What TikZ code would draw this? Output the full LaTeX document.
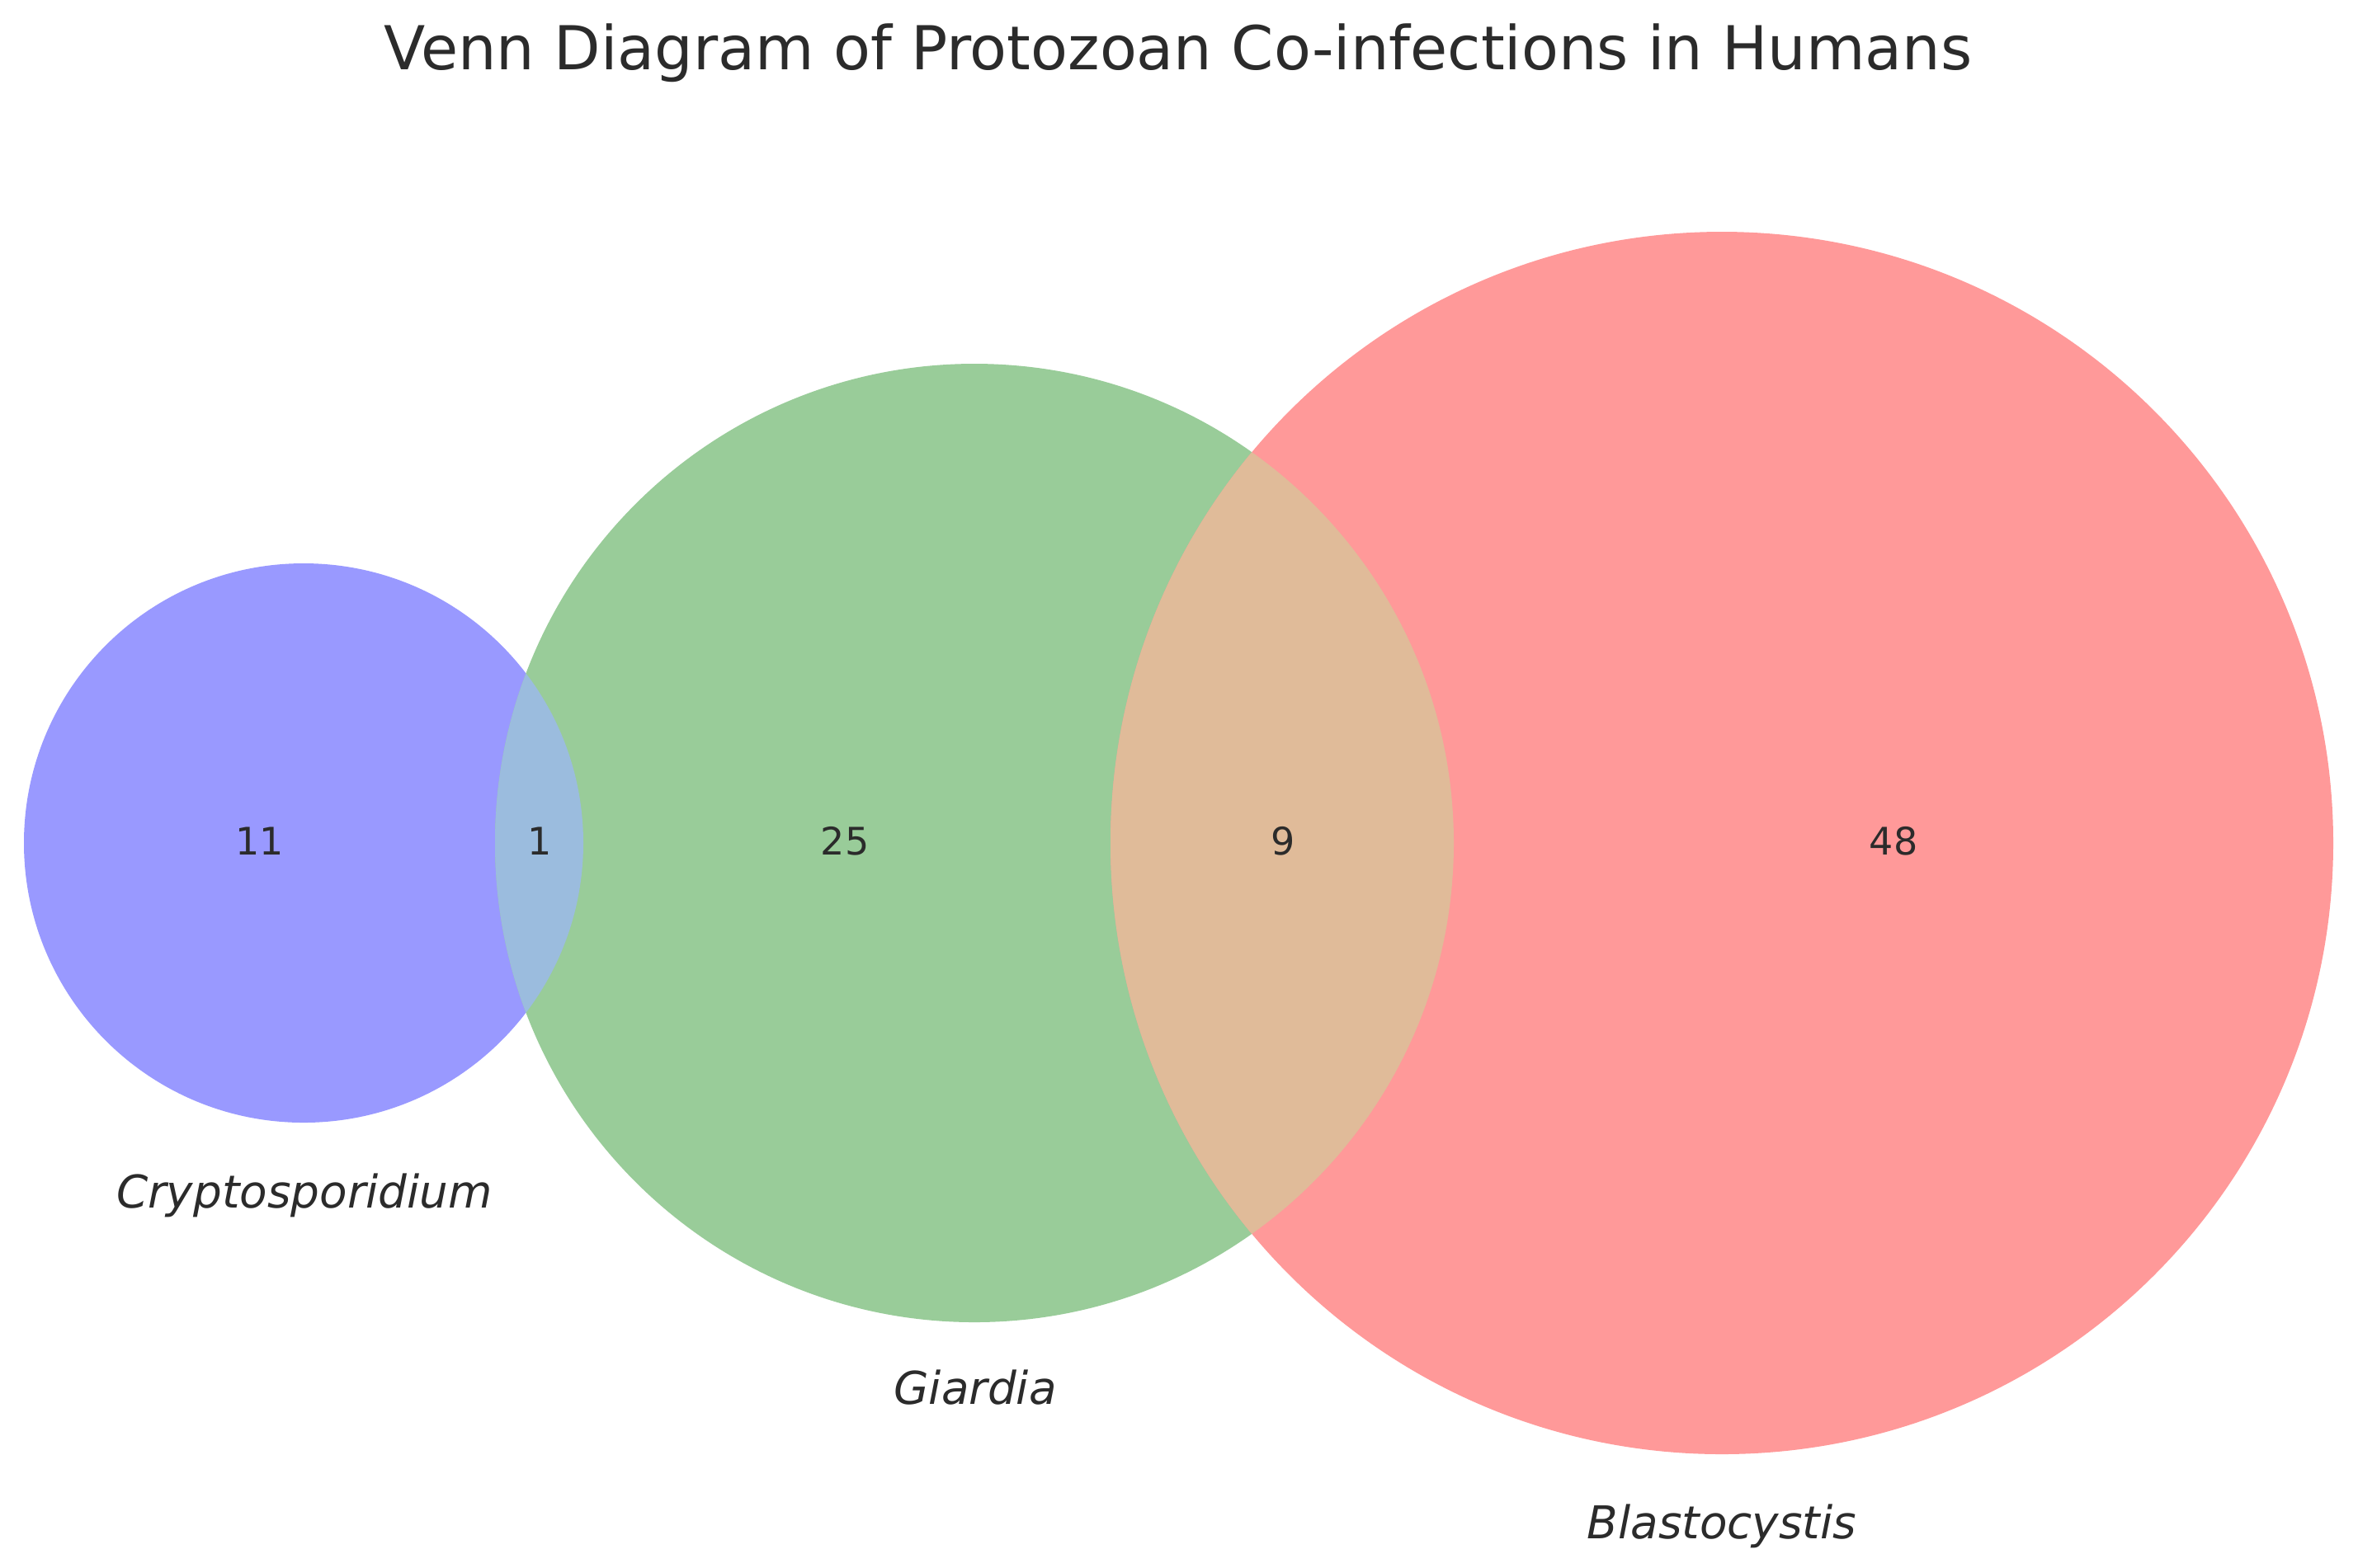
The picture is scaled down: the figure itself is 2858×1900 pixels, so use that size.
\documentclass[tikz,border=0pt]{standalone}
\usepackage{fontspec}
\setmainfont{DejaVu Sans}
\definecolor{cblue}{HTML}{9999FF}
\definecolor{cgreen}{HTML}{99CC99}
\definecolor{cred}{HTML}{FF9999}
\definecolor{cbg}{HTML}{9BBCDE}
\definecolor{cgr}{HTML}{E0BB99}
\definecolor{txt}{HTML}{2B2B2B}
\tikzset{
  num/.style={text=txt, font=\fontsize{11.5}{13}\selectfont, inner sep=0pt},
  setlabel/.style={text=txt, font=\fontsize{13.7}{16}\selectfont\itshape, inner sep=0pt},
  titlestyle/.style={text=txt, font=\fontsize{18.35}{22}\selectfont, inner sep=0pt}
}
\begin{document}
\begin{tikzpicture}[x=0.25pt, y=-0.25pt]
\useasboundingbox[fill=white] (0,0) rectangle (2858,1900);
% circles
\coordinate (cb) at (368,1022);
\coordinate (cg) at (1181,1022);
\coordinate (cr) at (2087,1022);
\fill[cblue] (cb) circle[radius=339];
\fill[cgreen] (cg) circle[radius=581];
\fill[cred] (cr) circle[radius=741];
\begin{scope}
  \clip (cb) circle[radius=339];
  \fill[cbg] (cg) circle[radius=581];
\end{scope}
\begin{scope}
  \clip (cr) circle[radius=741];
  \fill[cgr] (cg) circle[radius=581];
\end{scope}
% title
\node[titlestyle] (title) at (1428,64) {Venn Diagram of Protozoan Co-infections in Humans};
% numbers
\node[num] (n11) at (315,1020) {11};
\node[num] (n1) at (654,1020) {1};
\node[num] (n25) at (1024,1020) {25};
\node[num] (n9) at (1555,1020) {9};
\node[num] (n48) at (2295,1020) {48};
% set labels
\node[setlabel, anchor=base] (lc) at (369,1464) {Cryptosporidium};
\node[setlabel, anchor=base] (lg) at (1182,1702) {Giardia};
\node[setlabel, anchor=base] (lb) at (2087,1865) {Blastocystis};
\end{tikzpicture}
\end{document}
